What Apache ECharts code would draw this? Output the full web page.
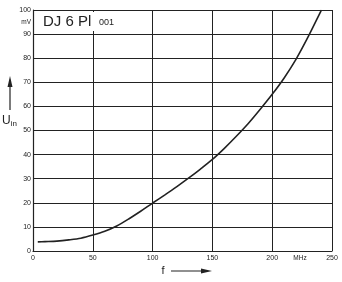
<!DOCTYPE html>
<html><head><meta charset="utf-8">
<script src="https://cdn.jsdelivr.net/npm/echarts@6/dist/echarts.min.js"></script>
<style>html,body{margin:0;padding:0;background:#fff}#c{width:342px;height:282px}</style>
</head><body><div id="c"></div>
<script>
// Frequency f (MHz) and input voltage U_in (mV)
const freqMHz = [4, 10, 20, 30, 40, 50, 60, 70, 80, 90, 100, 110, 120, 130, 140, 150, 160, 170, 180, 190, 200, 210, 220, 230, 240, 241.2];
const uinMV   = [3.8, 3.9, 4.1, 4.6, 5.3, 6.6, 8.2, 10.4, 13.3, 16.5, 19.9, 23.2, 26.6, 30.2, 34.0, 38.0, 42.6, 47.6, 52.9, 58.8, 65.0, 71.8, 79.6, 88.8, 98.8, 100];
const xTicks = [0, 50, 100, 150, 200, 250];
const yTicks = [0, 10, 20, 30, 40, 50, 60, 70, 80, 90, 100];

const ink = '#222';
const chart = echarts.init(document.getElementById('c'), null, {renderer: 'canvas'});
chart.setOption({
  backgroundColor: '#fff',
  animation: false,
  grid: {left: 33, right: 10, top: 10, bottom: 31},
  xAxis: {
    type: 'value', min: xTicks[0], max: xTicks[xTicks.length - 1], interval: 50,
    axisLine: {show: true, lineStyle: {color: ink, width: 1.2}},
    axisTick: {show: false},
    splitLine: {show: true, lineStyle: {color: ink, width: 1}},
    axisLabel: {color: ink, fontSize: 7, margin: 4, fontFamily: 'Liberation Sans'}
  },
  yAxis: {
    type: 'value', min: yTicks[0], max: yTicks[yTicks.length - 1], interval: 10,
    axisLine: {show: true, lineStyle: {color: ink, width: 1.2}},
    axisTick: {show: false},
    splitLine: {show: true, lineStyle: {color: ink, width: 1}},
    axisLabel: {color: ink, fontSize: 7, margin: 2, fontFamily: 'Liberation Sans'}
  },
  series: [{
    type: 'line', smooth: 0.3, symbol: 'none',
    data: freqMHz.map((f, i) => [f, uinMV[i]]),
    lineStyle: {color: ink, width: 1.6}
  }],
  graphic: [
    {type: 'rect', shape: {x: 40, y: 12, width: 80, height: 19}, style: {fill: '#fff'}, z: 10},
    {type: 'text', x: 43, y: 22, z: 11, style: {text: 'DJ 6 Pl', fontSize: 15, fill: ink, fontFamily: 'Liberation Sans', verticalAlign: 'middle'}},
    {type: 'text', x: 99, y: 23, z: 11, style: {text: '001', fontSize: 9, fill: ink, fontFamily: 'Liberation Sans', verticalAlign: 'middle'}},
    {type: 'text', x: 31, y: 22, style: {text: 'mV', fontSize: 6.5, fill: ink, fontFamily: 'Liberation Sans', align: 'right', verticalAlign: 'middle'}},
    {type: 'text', x: 300, y: 258, style: {text: 'MHz', fontSize: 6.5, fill: ink, fontFamily: 'Liberation Sans', align: 'center', verticalAlign: 'middle'}},
    {type: 'text', x: 163, y: 271, style: {text: 'f', fontSize: 11, fill: ink, fontFamily: 'Liberation Sans', align: 'center', verticalAlign: 'middle'}},
    {type: 'line', shape: {x1: 171, y1: 271, x2: 204, y2: 271}, style: {stroke: ink, lineWidth: 1.2}},
    {type: 'polygon', shape: {points: [[201, 268.5], [212, 271], [201, 273.5]]}, style: {fill: ink}},
    {type: 'line', shape: {x1: 10, y1: 84, x2: 10, y2: 110}, style: {stroke: ink, lineWidth: 1.2}},
    {type: 'polygon', shape: {points: [[7.5, 87], [10, 76], [12.5, 87]]}, style: {fill: ink}},
    {type: 'text', x: 2, y: 121, style: {
      text: '{u|U}{s|in}', verticalAlign: 'middle',
      rich: {u: {fontSize: 12, fill: ink, fontFamily: 'Liberation Sans'}, s: {fontSize: 8, fill: ink, fontFamily: 'Liberation Sans', padding: [5, 0, 0, 0]}}
    }}
  ]
});
</script></body></html>
